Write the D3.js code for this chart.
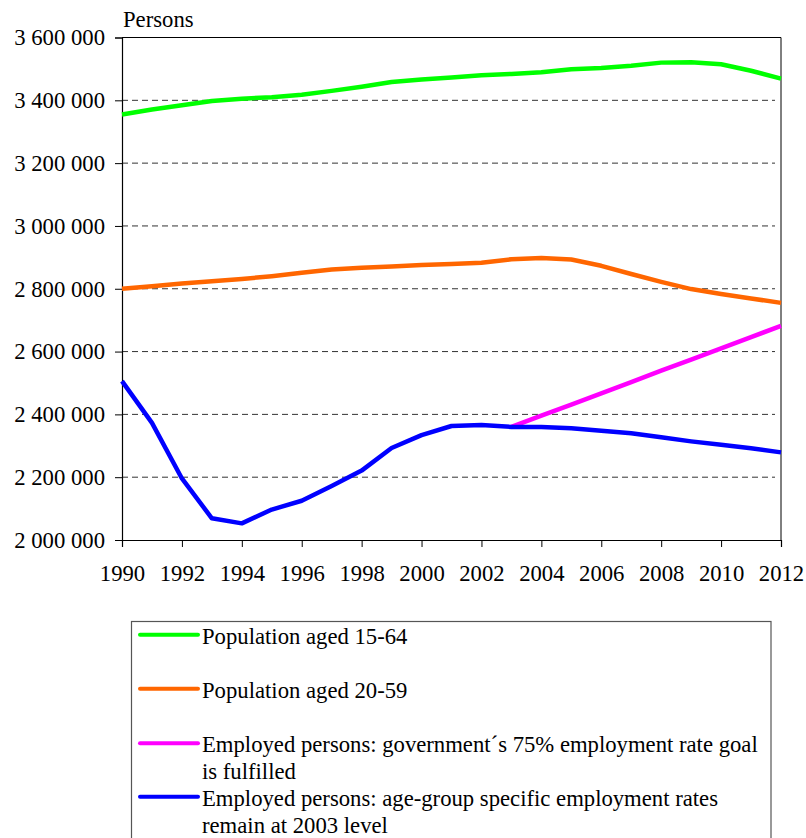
<!DOCTYPE html>
<html><head><meta charset="utf-8">
<script src="https://cdn.jsdelivr.net/npm/d3@7"></script>
<style>
body{margin:0;background:#fff}svg{display:block}
svg text{font-family:'Liberation Serif','Times New Roman','DejaVu Serif',serif;fill:#000}</style>
</head><body><svg id="c" width="806" height="838"></svg>
<script>
const years = [1990,1991,1992,1993,1994,1995,1996,1997,1998,1999,2000,2001,2002,2003,2004,2005,2006,2007,2008,2009,2010,2011,2012];
const pop1564 = [3355000,3371000,3384000,3398000,3405000,3410000,3418000,3430000,3443000,3458000,3466000,3473000,3480000,3484000,3489000,3499000,3503000,3510000,3520000,3521000,3515000,3494000,3469000];
const pop2059 = [2800000,2808000,2817000,2824000,2831000,2840000,2851000,2861000,2867000,2871000,2876000,2879000,2883000,2894000,2898000,2893000,2873000,2847000,2822000,2799000,2783000,2769000,2755000];
const goalYears = [2003,2004,2005,2006,2007,2008,2009,2010,2011,2012];
const empGoal = [2360000,2396000,2431000,2467000,2503000,2539000,2574000,2610000,2646000,2682000];
const empConst = [2506000,2373000,2196000,2069000,2053000,2097000,2125000,2172000,2221000,2293000,2334000,2363000,2366000,2360000,2360000,2356000,2348000,2340000,2327000,2314000,2303000,2292000,2279000];
const yTicks = [2000000,2200000,2400000,2600000,2800000,3000000,3200000,3400000,3600000];
const xTicks = [1990,1992,1994,1996,1998,2000,2002,2004,2006,2008,2010,2012];
const seriesNames = ["Population aged 15-64","Population aged 20-59","Employed persons: government´s 75% employment rate goal|is fulfilled","Employed persons: age-group specific employment rates|remain at 2003 level"];
const colors = ["#00ff00","#ff6600","#ff00ff","#0000ff"];

const FS = "22.7px";
const svg = d3.select("#c");
const L=122,R=781,T=37.5,B=540;
const x = d3.scaleLinear().domain([1990,2012]).range([L,R]);
const y = d3.scaleLinear().domain([2000000,3600000]).range([B,T]);
const fmt = v => d3.format(",")(v).replace(/,/g," ");

svg.append("g").selectAll("line").data(yTicks.filter(v=>v>2000000&&v<3600000)).join("line")
  .attr("x1",L).attr("x2",R-6).attr("y1",d=>y(d)).attr("y2",d=>y(d))
  .attr("stroke","#333").attr("stroke-width",1).attr("stroke-dasharray","6,4");
svg.append("line").attr("x1",L).attr("x2",R).attr("y1",T).attr("y2",T).attr("stroke","#000");
svg.append("line").attr("x1",R).attr("x2",R).attr("y1",T).attr("y2",B).attr("stroke","#000");

const yAx = svg.append("g").attr("transform",`translate(${L},0)`)
  .call(d3.axisLeft(y).tickValues(yTicks).tickFormat(fmt).tickSize(7).tickPadding(10));
const xAx = svg.append("g").attr("transform",`translate(0,${B})`)
  .call(d3.axisBottom(x).tickValues(xTicks).tickFormat(d3.format("d")).tickSize(7).tickPadding(18));
[yAx,xAx].forEach(a=>{a.attr("font-family",null).attr("font-size",null);
  a.select(".domain").attr("stroke","#000").attr("stroke-width",1.2);
  a.selectAll("line").attr("stroke","#000");
  a.selectAll("text").style("font-size",FS);});

svg.append("text").attr("x",123).attr("y",27).style("font-size",FS).text("Persons");

const line = d3.line().x(d=>x(d[0])).y(d=>y(d[1]));
const data = [d3.zip(years,pop1564), d3.zip(years,pop2059), d3.zip(goalYears,empGoal), d3.zip(years,empConst)];
data.forEach((d,i)=>{
  svg.append("path").datum(d).attr("d",line).attr("fill","none")
    .attr("stroke",colors[i]).attr("stroke-width",4.5).attr("stroke-linejoin","round");
});

svg.append("rect").attr("x",131.5).attr("y",621.5).attr("width",639.5).attr("height",240)
  .attr("fill","none").attr("stroke","#555").attr("stroke-width",1.2);
const ly = [634.7,688.7,743.3,796.7];
const lb = [643.7,698,752.3,806];
seriesNames.forEach((n,i)=>{
  svg.append("line").attr("x1",140).attr("x2",198).attr("y1",ly[i]).attr("y2",ly[i])
    .attr("stroke",colors[i]).attr("stroke-width",4).attr("stroke-linecap","round");
  const t = svg.append("text").attr("x",202).attr("y",lb[i]).style("font-size",FS);
  n.split("|").forEach((s,j)=>t.append("tspan").attr("x",202).attr("dy",j?26.7:0).text(s));
});
</script></body></html>
